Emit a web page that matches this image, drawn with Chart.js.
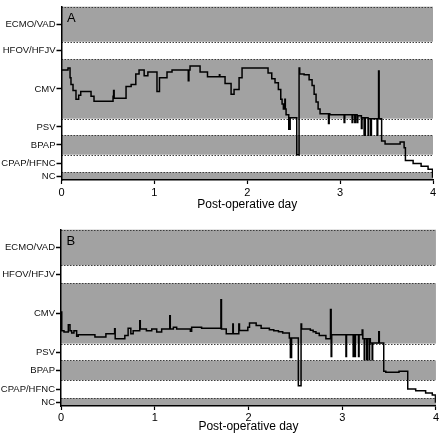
<!DOCTYPE html>
<html>
<head>
<meta charset="utf-8">
<script src="https://cdn.jsdelivr.net/npm/chart.js@4.4.0/dist/chart.umd.min.js"></script>
<style>
  body { margin: 0; background: #fff; }
  #panelA { position: absolute; left: 0; top: 0; }
  #panelB { position: absolute; left: 0; top: 223px; }
</style>
</head>
<body>
<canvas id="panelA" width="440" height="212"></canvas>
<canvas id="panelB" width="440" height="211"></canvas>
<script>
// ventilation modes, bottom to top, with the limits of each band on the y scale
const modos = ['NC', 'CPAP/HFNC', 'BPAP', 'PSV', 'CMV', 'HFOV/HFJV', 'ECMO/VAD'];
const bordesBandas = [0, 8, 26, 46, 63, 124, 142, 178];
const bandasGrises = [true, false, true, false, true, false, true];
const diasEje = [0, 1, 2, 3, 4];

// panel A: day / level
const diasA = [0, 0.07, 0.092, 0.102, 0.124, 0.156, 0.185, 0.207, 0.318, 0.35,
    0.555, 0.561, 0.567, 0.695, 0.75, 0.80, 0.835, 0.89, 0.93, 1.028,
    1.055, 1.136, 1.19, 1.365, 1.372, 1.384, 1.492, 1.572, 1.70, 1.705,
    1.761, 1.826, 1.858, 1.912, 1.944, 2.224, 2.264, 2.299, 2.335, 2.361,
    2.375, 2.389, 2.405, 2.41, 2.418, 2.447, 2.462, 2.533, 2.558, 2.565,
    2.612, 2.666, 2.698, 2.72, 2.741, 2.763, 2.784, 2.875, 2.882, 2.889,
    3.043, 3.05, 3.129, 3.136, 3.158, 3.165, 3.183, 3.19, 3.229, 3.236,
    3.258, 3.272, 3.301, 3.308, 3.33, 3.337, 3.398, 3.405, 3.414, 3.42,
    3.447, 3.484, 3.646, 3.689, 3.703, 3.786, 3.872, 3.947, 3.995, 4.0];
const nivelA = [113, 115, 105, 98, 92, 83, 87, 91, 86, 81,
    86, 92, 84, 96, 98, 109, 113, 107, 111, 91,
    105, 111, 113, 102, 113, 117, 111, 106, 108, 106,
    99, 88, 93, 105, 115, 110, 104, 100, 93, 83,
    78, 73, 83, 73, 67, 52, 64, 26, 115, 109,
    108, 103, 97, 88, 80, 73, 68, 58, 68, 67,
    59, 67, 59, 67, 59, 67, 59, 66, 53, 64,
    46, 64, 46, 63, 46, 63, 46, 63, 112, 63,
    40, 37, 39, 33, 20, 17, 14, 11, 3, 3];

// panel B
const diasB = [0, 0.008, 0.032, 0.078, 0.096, 0.114, 0.138, 0.167, 0.184, 0.362,
    0.479, 0.572, 0.578, 0.681, 0.716, 0.745, 0.77, 0.84, 0.846, 0.911,
    0.968, 1.021, 1.074, 1.16, 1.166, 1.199, 1.234, 1.38, 1.394, 1.5,
    1.706, 1.712, 1.763, 1.833, 1.838, 1.897, 1.904, 1.993, 2.011, 2.082,
    2.135, 2.223, 2.27, 2.32, 2.365, 2.436, 2.447, 2.46, 2.532, 2.561,
    2.567, 2.66, 2.69, 2.72, 2.755, 2.826, 2.875, 2.882, 2.888, 3.04,
    3.046, 3.117, 3.123, 3.135, 3.141, 3.174, 3.18, 3.213, 3.22, 3.235,
    3.241, 3.262, 3.268, 3.287, 3.293, 3.30, 3.319, 3.325, 3.39, 3.396,
    3.443, 3.465, 3.606, 3.699, 3.784, 3.89, 3.961, 3.995, 4.0];
const nivelB = [95, 76, 74.6, 82, 76, 73.6, 76, 70.3, 72, 69.6,
    73, 78, 68, 71.3, 78.5, 73, 76, 86, 77.8, 76,
    77.8, 74.6, 77.8, 91, 77.8, 79.5, 77.8, 75.5, 79.5, 78.5,
    107.4, 77.8, 72.9, 82.7, 72.9, 82.7, 76.2, 79.5, 83.7, 81.2,
    78.5, 77, 76, 75, 73.6, 68.7, 49, 68.7, 20.4, 82.7,
    77.8, 76.5, 75, 73.5, 71.3, 68, 97.5, 50, 72, 50,
    72, 50, 72, 50, 72, 50, 72, 76.8, 68, 46.7,
    68, 46.7, 68, 46.7, 68, 63.7, 46.7, 63.7, 75, 63.7,
    35.2, 34, 35.2, 17.1, 15.5, 13, 11, 4, 4];

const fuente = '"Liberation Sans", Arial, Helvetica, sans-serif';

// ticks in the middle of every band
let centros = [];
for (let i = 0; i < modos.length; i++) {
    centros.push((bordesBandas[i] + bordesBandas[i + 1]) / 2);
}

const bandasPlugin = {
    id: 'bandas',
    beforeDraw(chart) {
        const ctx = chart.ctx;
        const area = chart.chartArea;
        const y = chart.scales.y;
        ctx.save();
        for (let i = 0; i < modos.length; i++) {
            if (!bandasGrises[i]) continue;
            let yArriba = y.getPixelForValue(bordesBandas[i + 1]);
            let yAbajo = y.getPixelForValue(bordesBandas[i]);
            ctx.fillStyle = '#a2a2a2';
            ctx.fillRect(area.left, yArriba, area.right - area.left, yAbajo - yArriba);
        }
        // dotted limits between modes
        ctx.strokeStyle = '#3c3c3c';
        ctx.lineWidth = 1.2;
        ctx.setLineDash([1.5, 1.5]);
        for (let i = 1; i < bordesBandas.length; i++) {
            let py = Math.round(y.getPixelForValue(bordesBandas[i])) + 0.5;
            ctx.beginPath();
            ctx.moveTo(area.left, py);
            ctx.lineTo(area.right, py);
            ctx.stroke();
        }
        ctx.restore();
    },
    afterDraw(chart, args, opts) {
        const ctx = chart.ctx;
        ctx.save();
        ctx.fillStyle = '#000';
        ctx.font = '13px ' + fuente;
        ctx.textBaseline = 'alphabetic';
        ctx.fillText(opts.letra, chart.chartArea.left + 5.5, chart.chartArea.top + 15);
        ctx.restore();
    }
};

function crearPanel(id, letra, dias, nivel, altoEje, anchoEje, margenDer, sepTicks) {
    let puntos = dias.map((d, i) => ({ x: d, y: nivel[i] }));
    return new Chart(document.getElementById(id), {
        type: 'line',
        data: {
            datasets: [{
                data: puntos,
                borderColor: '#000',
                borderWidth: 1.5,
                pointRadius: 0,
                stepped: true,
                fill: false
            }]
        },
        options: {
            responsive: false,
            animation: false,
            devicePixelRatio: 1,
            layout: { padding: { top: 2, right: margenDer, left: 0, bottom: 0 } },
            plugins: {
                legend: { display: false },
                tooltip: { enabled: false },
                bandas: { letra: letra }
            },
            scales: {
                x: {
                    type: 'linear',
                    min: diasEje[0],
                    max: diasEje[diasEje.length - 1],
                    afterFit: (s) => { s.height = altoEje; },
                    afterBuildTicks: (s) => { s.ticks = diasEje.map(v => ({ value: v })); },
                    ticks: { color: '#000', font: { size: 11, family: fuente }, padding: sepTicks, autoSkip: false },
                    grid: { drawOnChartArea: false, tickLength: 4, color: '#000', tickWidth: 1.2 },
                    border: { color: '#000', width: 1.5 },
                    title: {
                        display: true,
                        text: 'Post-operative day',
                        color: '#000',
                        font: { size: 12, family: fuente },
                        padding: { top: 0, bottom: 0 }
                    }
                },
                y: {
                    type: 'linear',
                    min: bordesBandas[0],
                    max: bordesBandas[bordesBandas.length - 1],
                    afterFit: (s) => { s.width = anchoEje; },
                    afterBuildTicks: (s) => { s.ticks = centros.map(v => ({ value: v })); },
                    ticks: {
                        autoSkip: false,
                        callback: (v, i) => modos[i],
                        color: '#111',
                        font: { size: 9.5, family: fuente },
                        padding: 1
                    },
                    grid: { drawOnChartArea: false, tickLength: 5, color: '#000', tickWidth: 1.5 },
                    border: { color: '#000', width: 1.5 }
                }
            }
        },
        plugins: [bandasPlugin]
    });
}

crearPanel('panelA', 'A', diasA, nivelA, 32, 61.5, 7, 2);
crearPanel('panelB', 'B', diasB, nivelB, 28, 61, 3, 1);
</script>
</body>
</html>
